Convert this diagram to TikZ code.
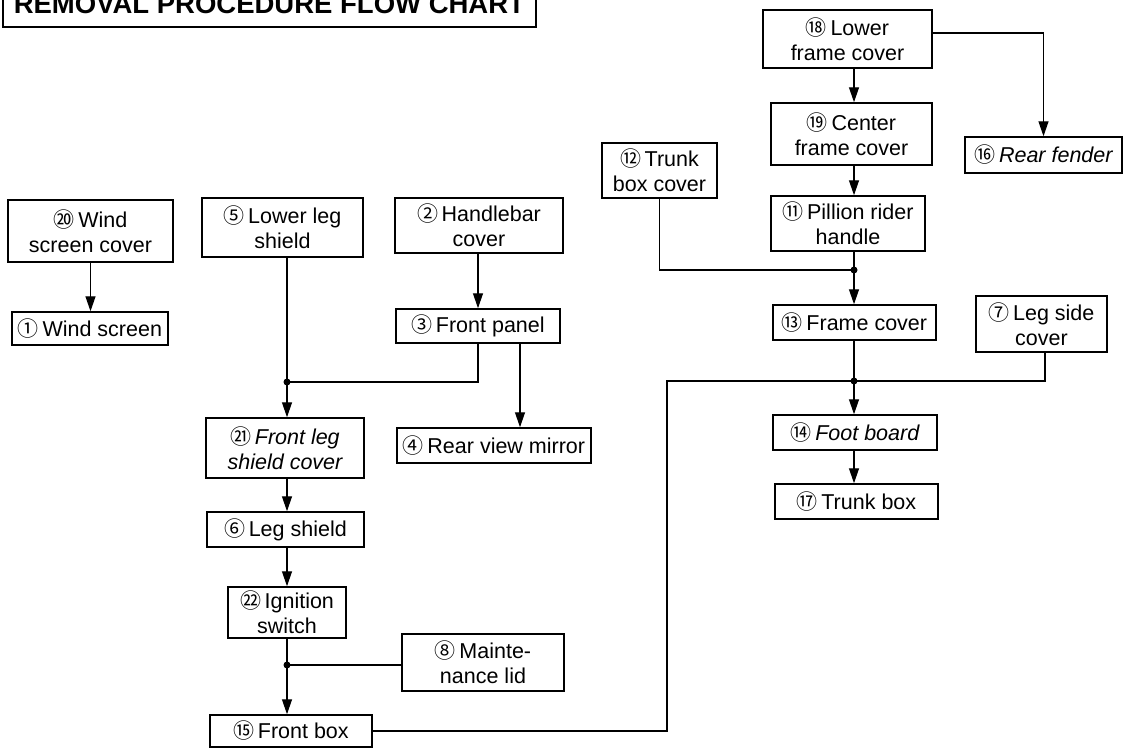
\documentclass[tikz,border=0pt]{standalone}
\usepackage{fontspec}
\setmainfont{Liberation Sans}
\newfontfamily\cjkfont{Noto Sans CJK JP}
\usetikzlibrary{arrows.meta}
% circled step numbers
\newcommand\cnum[1]{{\cjkfont\fontsize{21}{25}\selectfont #1}\,}

\begin{document}
\begin{tikzpicture}[x=1pt, y=-1pt,
  box/.style={draw, line width=1.5pt, align=center, inner sep=0pt,
              font=\fontsize{21.5}{25}\selectfont},
  link/.style={line width=1.3pt},
  arr/.style={link, -{Triangle[length=15pt,width=10pt]}},
  dot/.style={circle, fill, inner sep=0pt, minimum size=7pt}]

\useasboundingbox (0,0) rectangle (1125,748);
\clip (0,0) rectangle (1125,748);

% heading
\node[draw, line width=1.5pt, anchor=base west, inner xsep=11pt, inner ysep=14pt,
      text depth=0pt, font=\bfseries\fontsize{27.5}{30}\selectfont]
  (title) at (2,13) {REMOVAL PROCEDURE FLOW CHART};

% left group
\node[box, minimum width=165, minimum height=62] (n20) at (90.5,231) {\cnum{⑳}Wind\\screen cover};
\node[box, minimum width=156, minimum height=33] (n1)  at (90,328.5) {\cnum{①}Wind screen};
\node[box, minimum width=161, minimum height=59] (n5)  at (282.5,227.5) {\cnum{⑤}Lower leg\\shield};
\node[box, minimum width=168, minimum height=55] (n2)  at (479,225.5) {\cnum{②}Handlebar\\cover};
\node[box, minimum width=164, minimum height=34] (n3)  at (478,326) {\cnum{③}Front panel};
\node[box, minimum width=194, minimum height=35] (n4)  at (494,445.5) {\cnum{④}Rear view mirror};
\node[box, minimum width=158, minimum height=60] (n21) at (285,448) {\cnum{㉑}\itshape Front leg\\\itshape shield cover};
\node[box, minimum width=157, minimum height=35] (n6)  at (285.5,529.5) {\cnum{⑥}Leg shield};
\node[box, minimum width=118, minimum height=51] (n22) at (287,612.5) {\cnum{㉒}Ignition\\switch};
\node[box, minimum width=162, minimum height=57] (n8)  at (483,662.5) {\cnum{⑧}Mainte-\\nance lid};
\node[box, minimum width=162, minimum height=32] (n15) at (291,731) {\cnum{⑮}Front box};

% right group
\node[box, minimum width=169, minimum height=58] (n18) at (847.5,39) {\cnum{⑱}Lower\\frame cover};
\node[box, minimum width=161, minimum height=62] (n19) at (851.5,134) {\cnum{⑲}Center\\frame cover};
\node[box, minimum width=157, minimum height=36] (n16) at (1043.5,155) {\cnum{⑯}\itshape Rear fender};
\node[box, minimum width=115, minimum height=55] (n12) at (659.5,170.5) {\cnum{⑫}Trunk\\box cover};
\node[box, minimum width=154, minimum height=55] (n11) at (848,223.5) {\cnum{⑪}Pillion rider\\handle};
\node[box, minimum width=163, minimum height=35] (n13) at (854.5,322.5) {\cnum{⑬}Frame cover};
\node[box, minimum width=131, minimum height=56] (n7)  at (1041.5,324) {\cnum{⑦}Leg side\\cover};
\node[box, minimum width=164, minimum height=35] (n14) at (855,432.5) {\cnum{⑭}\itshape Foot board};
\node[box, minimum width=163, minimum height=35] (n17) at (856.5,501.5) {\cnum{⑰}Trunk box};

% junctions and bends
\coordinate (J1) at (287,382);
\coordinate (J2) at (287,665);
\coordinate (J3) at (854,381);
\coordinate (J4) at (854,270);
\coordinate (c478) at (478,0);
\coordinate (c520) at (520,0);
\coordinate (bend15) at (667,381);
\coordinate (c1045) at (1045,0);
\coordinate (k16) at (1043,33);

% left connectors
\draw[arr] (n20.south) -- (n20.south |- n1.north);
\draw[arr] (n2.south -| c478) -- (n3.north -| c478);
\draw[link] (n5.south -| J1) -- (J1);
\draw[link] (n3.south -| c478) |- (J1);
\draw[arr] (J1) -- (n21.north -| J1);
\draw[arr] (n3.south -| c520) -- (n4.north -| c520);
\draw[arr] (n21.south -| J1) -- (n6.north -| J1);
\draw[arr] (n6.south -| J1) -- (n22.north -| J1);
\draw[link] (n22.south -| J2) -- (J2);
\draw[link] (n8.west |- J2) -- (J2);
\draw[arr] (J2) -- (n15.north -| J2);
\draw[link] (n15.east) -| (bend15) -- (J3);

% right connectors
\draw[arr] (n18.south -| J4) -- (n19.north -| J4);
\draw[arr] (n18.east |- k16) -| (n16.north);
\draw[arr] (n19.south -| J4) -- (n11.north -| J4);
\draw[link] (n12.south) |- (J4);
\draw[link] (n11.south -| J4) -- (J4);
\draw[arr] (J4) -- (n13.north -| J4);
\draw[link] (n13.south -| J3) -- (J3);
\draw[link] (n7.south -| c1045) |- (J3);
\draw[arr] (J3) -- (n14.north -| J3);
\draw[arr] (n14.south -| J3) -- (n17.north -| J3);

\foreach \j in {J1,J2,J3,J4} \node[dot] at (\j) {};
\end{tikzpicture}
\end{document}
